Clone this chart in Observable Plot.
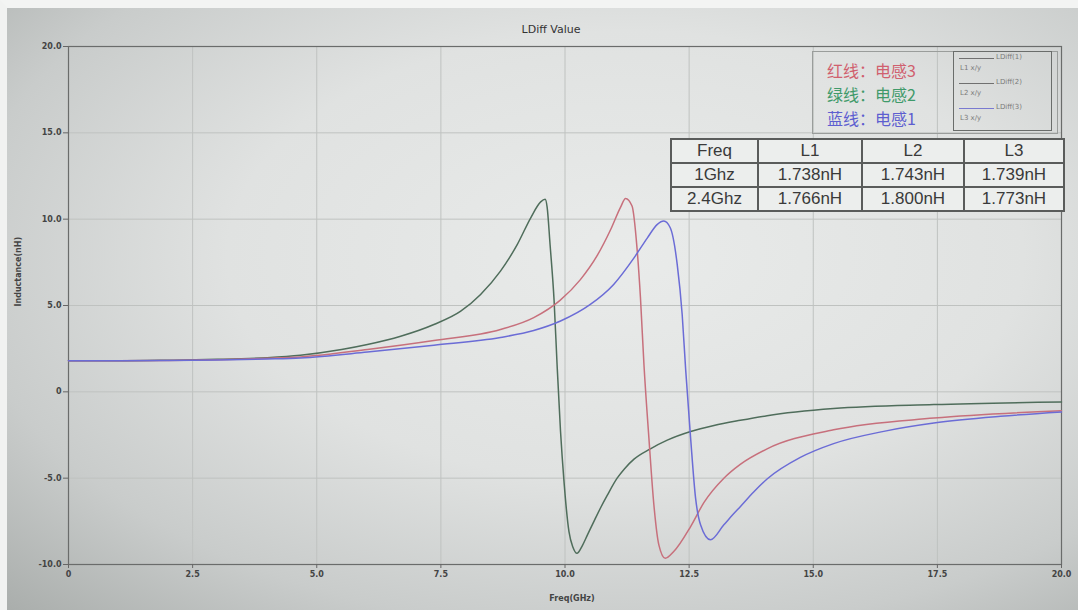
<!DOCTYPE html>
<html>
<head>
<meta charset="utf-8">
<script src="https://cdn.jsdelivr.net/npm/d3@7"></script>
<script src="https://cdn.jsdelivr.net/npm/@observablehq/plot@0.6"></script>
<style>
  html, body { margin: 0; padding: 0; background: #f4f5f4; }
  #wrap { position: relative; width: 1078px; height: 610px; overflow: hidden;
    background: radial-gradient(ellipse at 58% 42%, #e9ebea 0%, #e0e2e1 45%, #c9cccb 75%, #a9adab 100%); }
  #edge { position: absolute; left: 0; top: 0; width: 1078px; height: 610px; box-sizing: border-box;
    border-top: 8px solid #f3f4f3; border-left: 7px solid #f1f2f1; pointer-events: none; }
  #chart { position: absolute; left: 0; top: 0; }
  .tbl { position: absolute; left: 670px; top: 138px; border-collapse: collapse;
    font-family: "Liberation Sans", Arial, sans-serif; font-size: 17px; color: #3a3a3a; background: #eceeed; }
  .tbl td { border: 2px solid #5a5c5b; text-align: center; height: 22px; padding: 0; line-height: 22px; }
  #note { position: absolute; left: 812px; top: 51px; width: 246px; height: 83px; box-sizing: border-box;
    border: 1px solid #9a9d9b; }
  .cn { position: absolute; left: 827px; font-family: "Noto Sans CJK SC", sans-serif; font-size: 16px; line-height: 18px; height: 18px; white-space: nowrap; }
  #leg { position: absolute; left: 953px; top: 51px; width: 99px; height: 80px; box-sizing: border-box;
    border: 1px solid #6a6d6b; font-family: "DejaVu Sans", sans-serif; font-size: 7px; color: #7a7a7a; }
  .li { position: absolute; left: 5px; width: 35px; height: 0; border-top: 1px solid #666; }
  .lt { position: absolute; left: 42px; }
  .ls { position: absolute; left: 6px; }
</style>
</head>
<body>
<div id="wrap">
  <div id="chart"></div>
  <div id="note"></div>
  <div class="cn" style="top:61px;color:#d0606e">红线：电感3</div>
  <div class="cn" style="top:85px;color:#3f9a6a">绿线：电感2</div>
  <div class="cn" style="top:109px;color:#5d5ed0">蓝线：电感1</div>
  <div id="leg"></div>
  <div id="tblhost"></div>
  <div id="edge"></div>
</div>
<script>
// ---- data ----
const xTicks = [0, 2.5, 5, 7.5, 10, 12.5, 15, 17.5, 20];
const xTickLabels = ["0", "2.5", "5.0", "7.5", "10.0", "12.5", "15.0", "17.5", "20.0"];
const yTicks = [-10, -5, 0, 5, 10, 15, 20];
const yTickLabels = ["-10.0", "-5.0", "0", "5.0", "10.0", "15.0", "20.0"];

// Green: 电感2 (L2)
const freqL2 = [0, 1, 2, 3, 4, 4.67, 5.5, 6.02, 6.69, 7.36, 7.9, 8.3, 8.7, 9.04, 9.31, 9.51, 9.6, 9.64, 9.7, 9.78, 9.84, 9.91, 9.98, 10.08, 10.16, 10.24, 10.35, 10.45, 10.6, 10.72, 10.85, 11.05, 11.2, 11.39, 11.72, 12.06, 12.53, 13.0, 13.53, 14.07, 15.41, 17.43, 20];
const valL2 = [1.8, 1.8, 1.83, 1.88, 1.98, 2.12, 2.45, 2.74, 3.22, 3.9, 4.67, 5.64, 6.99, 8.54, 10.08, 11.0, 11.15, 10.7, 8.5, 5.3, 1.6, -2.3, -5.2, -8.1, -9.0, -9.35, -8.9, -8.3, -7.4, -6.7, -6.0, -5.0, -4.45, -3.9, -3.3, -2.8, -2.3, -1.95, -1.65, -1.38, -0.97, -0.74, -0.59];

// Red: 电感3 (L3)
const freqL3 = [0, 1, 2, 3, 4, 4.67, 6.02, 7.36, 8.7, 9.37, 9.9, 10.31, 10.65, 10.92, 11.12, 11.22, 11.35, 11.45, 11.52, 11.59, 11.69, 11.79, 11.89, 12.02, 12.19, 12.53, 12.8, 13.2, 13.53, 14.07, 15.41, 17.43, 20];
const valL3 = [1.8, 1.8, 1.82, 1.86, 1.94, 2.02, 2.45, 2.97, 3.61, 4.3, 5.3, 6.5, 7.9, 9.4, 10.7, 11.2, 10.76, 8.34, 5.44, 1.58, -2.68, -6.54, -8.86, -9.64, -9.25, -7.8, -6.4, -5.0, -4.2, -3.3, -2.2, -1.52, -1.09];

// Blue: 电感1 (L1)
const freqL1 = [0, 1, 2, 3, 4, 4.67, 6.02, 7.36, 8.7, 9.37, 9.91, 10.51, 10.98, 11.39, 11.66, 11.86, 11.99, 12.12, 12.26, 12.36, 12.43, 12.53, 12.63, 12.73, 12.93, 13.2, 13.4, 13.53, 13.8, 14.07, 14.74, 15.41, 16.42, 17.43, 18.77, 20];
const valL1 = [1.8, 1.8, 1.81, 1.84, 1.9, 1.96, 2.3, 2.7, 3.15, 3.55, 4.1, 5.06, 6.22, 7.76, 8.92, 9.7, 9.89, 9.5, 7.38, 4.48, 1.3, -2.68, -6.16, -7.7, -8.57, -7.7, -7.05, -6.65, -5.8, -5.05, -3.8, -3.0, -2.29, -1.81, -1.42, -1.17];

const tableHeader = ["Freq", "L1", "L2", "L3"];
const tableRows = [
  ["1Ghz", "1.738nH", "1.743nH", "1.739nH"],
  ["2.4Ghz", "1.766nH", "1.800nH", "1.773nH"]
];
const legendNames = ["LDiff(1)", "LDiff(2)", "LDiff(3)"];
const legendSubs = ["L1 x/y", "L2 x/y", "L3 x/y"];

const colL2 = "#4f6d5b", colL3 = "#c7707c", colL1 = "#6b6cd6";

const toRows = (fs, vs) => fs.map((f, i) => ({ f, v: vs[i] }));

const chart = Plot.plot({
  width: 1078, height: 610,
  marginLeft: 68, marginRight: 17, marginTop: 46, marginBottom: 46,
  style: { background: "transparent", fontFamily: "DejaVu Sans, sans-serif", fontSize: "8px", fontWeight: "bold", color: "#444" },
  x: { domain: [0, 20], label: null },
  y: { domain: [-10, 20], label: null },
  marks: [
    Plot.gridX(xTicks, { stroke: "#bfc2c0", strokeOpacity: 1 }),
    Plot.gridY(yTicks, { stroke: "#bfc2c0", strokeOpacity: 1 }),
    Plot.frame({ stroke: "#6a6c6b", strokeWidth: 1.2 }),
    Plot.axisX({ ticks: xTicks, tickFormat: d => xTickLabels[xTicks.indexOf(d)], tickSize: 4, tickPadding: 3, label: null, stroke: "#666" }),
    Plot.axisY({ ticks: yTicks, tickFormat: d => yTickLabels[yTicks.indexOf(d)], tickSize: 5, tickPadding: 2, label: null, stroke: "#666" }),
    Plot.line(toRows(freqL2, valL2), { x: "f", y: "v", stroke: colL2, strokeWidth: 1.5, curve: "monotone-x" }),
    Plot.line(toRows(freqL3, valL3), { x: "f", y: "v", stroke: colL3, strokeWidth: 1.5, curve: "monotone-x" }),
    Plot.line(toRows(freqL1, valL1), { x: "f", y: "v", stroke: colL1, strokeWidth: 1.5, curve: "monotone-x" }),
    Plot.text(["LDiff Value"], { frameAnchor: "top", dy: -21, dx: -14, fontSize: 11, fontWeight: "normal", fill: "#333" }),
    Plot.text(["Freq(GHz)"], { frameAnchor: "bottom", dy: 36, dx: 7, fontSize: 8, fill: "#444" }),
    Plot.text(["Inductance(nH)"], { frameAnchor: "left", dx: -50, dy: 1, rotate: -90, fontSize: 8, fill: "#444" })
  ]
});
document.getElementById("chart").appendChild(chart);

// table
const tbl = document.createElement("table");
tbl.className = "tbl";
const widths = [85, 102, 100, 98];
[tableHeader, ...tableRows].forEach(r => {
  const tr = document.createElement("tr");
  r.forEach((c, i) => {
    const td = document.createElement("td");
    td.textContent = c;
    td.style.width = widths[i] + "px";
    tr.appendChild(td);
  });
  tbl.appendChild(tr);
});
document.getElementById("tblhost").appendChild(tbl);

// small legend
const leg = document.getElementById("leg");
const legCols = ["#707070", "#707070", "#7a7ad0"];
legendNames.forEach((n, i) => {
  const top = 6 + i * 25;
  const line = document.createElement("div");
  line.className = "li"; line.style.top = top + "px"; line.style.borderTopColor = legCols[i];
  leg.appendChild(line);
  const t = document.createElement("div");
  t.className = "lt"; t.style.top = (top - 5) + "px"; t.textContent = n;
  leg.appendChild(t);
  const s = document.createElement("div");
  s.className = "ls"; s.style.top = (top + 6) + "px"; s.textContent = legendSubs[i];
  leg.appendChild(s);
});
</script>
</body>
</html>
